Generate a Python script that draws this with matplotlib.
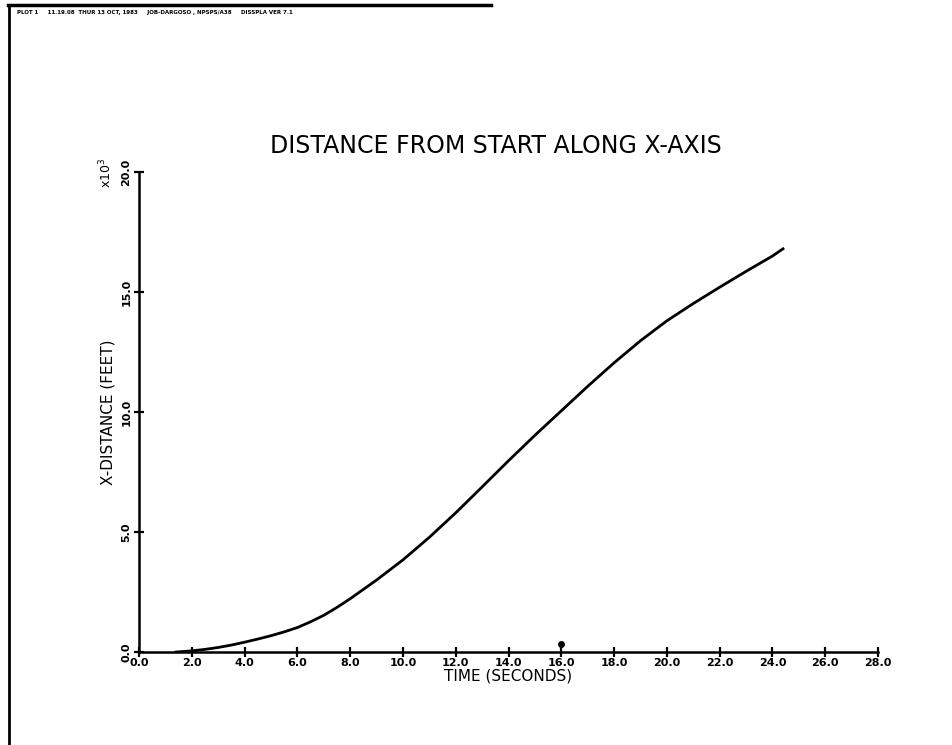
import numpy as np
import matplotlib.pyplot as plt
from matplotlib.lines import Line2D

# time (s) and distance along x (thousands of feet)
t = [1.4, 2.0, 2.5, 3.0, 3.5, 4.0, 4.5, 5.0, 5.5, 6.0, 6.5, 7.0, 7.5, 8.0, 9.0,
     10.0, 11.0, 12.0, 13.0, 14.0, 15.0, 16.0, 17.0, 18.0, 19.0, 20.0, 21.0,
     22.0, 23.0, 24.0, 24.4]
x_dist = [0.0, 0.05, 0.11, 0.19, 0.29, 0.41, 0.54, 0.68, 0.84, 1.02, 1.26, 1.53,
          1.86, 2.22, 3.0, 3.84, 4.78, 5.8, 6.88, 7.97, 9.03, 10.05, 11.07, 12.05,
          12.97, 13.8, 14.52, 15.2, 15.86, 16.5, 16.8]
# stray point near the axis
dot_t = [16.0]
dot_y = [0.33]

xticks = np.arange(0, 29, 2)
yticks = [0, 5, 10, 15, 20]

fig = plt.figure(figsize=(9.53, 7.45), dpi=100)
ax = fig.add_axes([0.1459, 0.1248, 0.7754, 0.6443])

ax.plot(t, x_dist, color="black", lw=2.0, solid_joinstyle="round")
ax.plot(dot_t, dot_y, "o", color="black", ms=4)

ax.set_xlim(0, 28)
ax.set_ylim(0, 20)
ax.set_xticks(xticks)
ax.set_xticklabels(["%.1f" % v for v in xticks], fontsize=8, fontweight="bold")
ax.set_yticks(yticks)
ax.set_yticklabels(["%.1f" % v for v in yticks], fontsize=8, fontweight="bold",
                   rotation=90, va="center")
ax.tick_params(direction="inout", length=7, width=1.6)
ax.tick_params(axis="x", pad=1)
ax.tick_params(axis="y", pad=2)

for s in ["top", "right"]:
    ax.spines[s].set_visible(False)
for s in ["left", "bottom"]:
    ax.spines[s].set_linewidth(1.8)

ax.set_xlabel("TIME (SECONDS)", fontsize=11, labelpad=0)
ax.set_ylabel("X-DISTANCE (FEET)", fontsize=11, labelpad=4)
ax.text(-0.045, 1.03, r"x10$^3$", transform=ax.transAxes, rotation=90,
        fontsize=9, ha="center", va="top")
fig.text(0.52, 0.804, "DISTANCE FROM START ALONG X-AXIS", fontsize=17, ha="center",
         va="center")

# page frame and header of the plotter sheet
fig.add_artist(Line2D([0.008, 0.515], [0.993, 0.993], color="black", lw=2.5))
fig.add_artist(Line2D([0.009, 0.009], [0.0, 0.993], color="black", lw=2))
fig.text(0.018, 0.983, "PLOT 1     11.19.08  THUR 13 OCT, 1983     JOB-DARGOSO , NPSPS/A38     DISSPLA VER 7.1",
         fontsize=4, fontweight="bold", va="center")

plt.savefig("out.png", dpi=100)
